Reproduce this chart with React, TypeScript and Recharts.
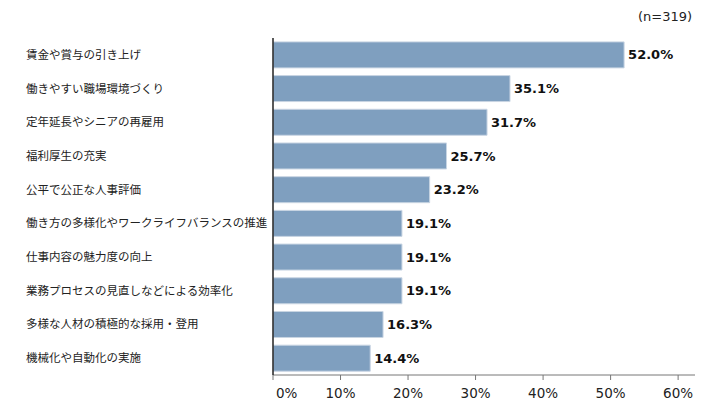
import React from 'react';
import { BarChart, Bar, XAxis, YAxis, LabelList } from 'recharts';

const categories = [
  '賃金や賞与の引き上げ',
  '働きやすい職場環境づくり',
  '定年延長やシニアの再雇用',
  '福利厚生の充実',
  '公平で公正な人事評価',
  '働き方の多様化やワークライフバランスの推進',
  '仕事内容の魅力度の向上',
  '業務プロセスの見直しなどによる効率化',
  '多様な人材の積極的な採用・登用',
  '機械化や自動化の実施',
];
const values = [52.0, 35.1, 31.7, 25.7, 23.2, 19.1, 19.1, 19.1, 16.3, 14.4];
const xTicks = [0, 10, 20, 30, 40, 50, 60];
const sampleNote = '(n=319)';

const data = categories.map((name, i) => ({ name, value: values[i] }));

const jpFont = '"Noto Sans CJK JP", "Noto Sans", sans-serif';
const numFont = '"DejaVu Sans", Verdana, sans-serif';

const CategoryTick = ({ y, payload }: any) => (
  <text
    x={26}
    y={y}
    dy={4}
    textAnchor="start"
    fontFamily={jpFont}
    fontSize={11.5}
    fill="#222"
  >
    {payload.value}
  </text>
);

// first label sits just right of the axis, the rest are centred on their tick
const PercentTick = ({ x, y, payload }: any) => {
  const first = payload.value === 0;
  return (
    <text
      x={first ? x + 3 : x}
      y={y + 6}
      dy="0.71em"
      textAnchor={first ? 'start' : 'middle'}
      fontFamily={numFont}
      fontSize={13.5}
      fill="#222"
    >
      {`${payload.value}%`}
    </text>
  );
};

export default function App() {
  return (
    <div style={{ position: 'absolute', left: 0, top: 0, width: 726, height: 411, background: '#fff' }}>
      <div
        style={{
          position: 'absolute',
          left: 638,
          top: 9,
          fontFamily: numFont,
          fontSize: 13,
          color: '#222',
          whiteSpace: 'nowrap',
        }}
      >
        {sampleNote}
      </div>
      <BarChart
        width={726}
        height={411}
        data={data}
        layout="vertical"
        margin={{ top: 38, right: 31, bottom: 0, left: 0 }}
        barCategoryGap="11.5%"
      >
        <XAxis
          type="number"
          domain={[0, 62.5]}
          ticks={xTicks}
          allowDataOverflow
          height={36}
          tickSize={5}
          axisLine={{ stroke: '#777', strokeWidth: 1 }}
          tickLine={{ stroke: '#777' }}
          tick={<PercentTick />}
        />
        <YAxis
          type="category"
          dataKey="name"
          width={273}
          axisLine={{ stroke: '#222', strokeWidth: 1.5 }}
          tickLine={false}
          tick={<CategoryTick />}
          interval={0}
        />
        <Bar
          dataKey="value"
          fill="#7f9fbf"
          stroke="#c9d5e3"
          strokeWidth={1}
          isAnimationActive={false}
        >
          <LabelList
            dataKey="value"
            position="right"
            offset={4}
            formatter={(v: any) => `${Number(v).toFixed(1)}%`}
            style={{ fontFamily: numFont, fontSize: 13, fontWeight: 'bold', fill: '#111' }}
          />
        </Bar>
      </BarChart>
    </div>
  );
}
